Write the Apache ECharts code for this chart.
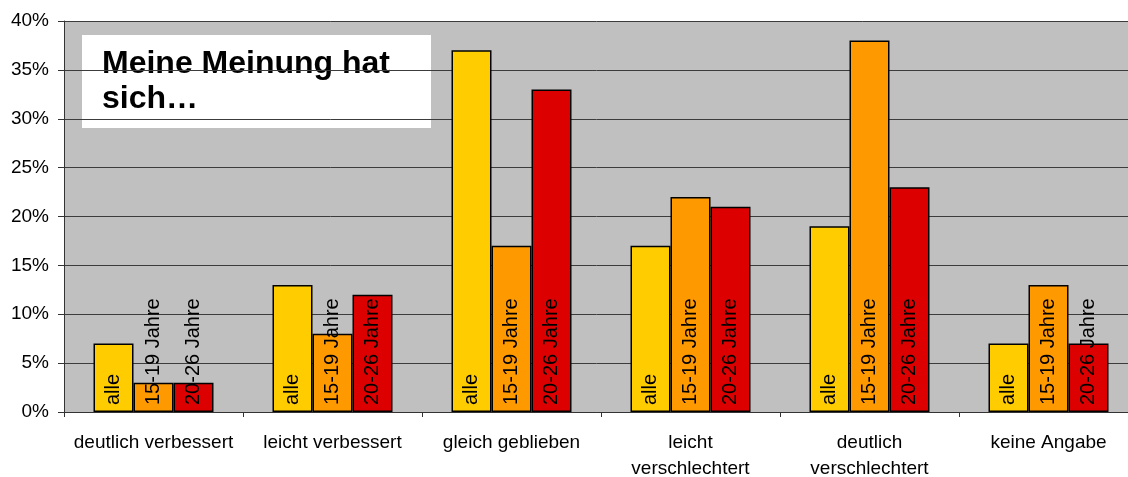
<!DOCTYPE html>
<html>
<head>
<meta charset="utf-8">
<script src="https://cdn.jsdelivr.net/npm/echarts@6/dist/echarts.min.js"></script>
<style>
  html, body { margin: 0; padding: 0; background: #ffffff; }
  #chart { width: 1128px; height: 477px; }
</style>
</head>
<body>
<div id="chart"></div>
<script>
// Survey answers: how has the opinion changed (percent of respondents)
const categories = [
  'deutlich verbessert',
  'leicht verbessert',
  'gleich geblieben',
  'leicht\nverschlechtert',
  'deutlich\nverschlechtert',
  'keine Angabe'
];
const seriesNames = ['alle', '15-19 Jahre', '20-26 Jahre'];
const valuesAlle = [7, 13, 37, 17, 19, 7];
const values15to19 = [3, 8, 17, 22, 38, 13];
const values20to26 = [3, 12, 33, 21, 23, 7];
const yTicks = { min: 0, max: 40, interval: 5 };
const titleLines = ['Meine Meinung hat', 'sich…'];

const colors = ['#FFCC00', '#FF9900', '#DD0000'];
const FONT = 'Liberation Sans, Arial, sans-serif';

function makeSeries(name, data, color) {
  return {
    name: name,
    type: 'bar',
    data: data,
    barWidth: 40,
    barGap: '0%',
    itemStyle: { color: color, borderColor: '#000000', borderWidth: 1.5 },
    label: {
      show: true,
      formatter: name,
      position: 'insideBottom',
      distance: 7,
      rotate: 90,
      align: 'left',
      verticalAlign: 'middle',
      color: '#000000',
      fontFamily: FONT,
      fontSize: 20
    },
    emphasis: { disabled: true },
    animation: false
  };
}

const chart = echarts.init(document.getElementById('chart'), null, { renderer: 'canvas' });
chart.setOption({
  backgroundColor: '#ffffff',
  animation: false,
  grid: {
    left: 64,
    width: 1074,
    top: 21,
    bottom: 65,
    containLabel: false,
    outerBoundsMode: 'none',
    show: true,
    backgroundColor: '#C0C0C0',
    borderWidth: 0
  },
  xAxis: {
    type: 'category',
    data: categories,
    axisLine: { show: true, lineStyle: { color: '#333333', width: 1 } },
    axisTick: { show: true, length: 5, lineStyle: { color: '#333333' } },
    axisLabel: {
      color: '#000000',
      fontFamily: FONT,
      fontSize: 19,
      lineHeight: 26,
      margin: 18,
      interval: 0
    }
  },
  yAxis: {
    type: 'value',
    min: yTicks.min,
    max: yTicks.max,
    interval: yTicks.interval,
    axisLine: { show: true, lineStyle: { color: '#333333', width: 1 } },
    axisTick: { show: true, length: 6, lineStyle: { color: '#333333' } },
    axisLabel: {
      formatter: '{value}%',
      color: '#000000',
      fontFamily: FONT,
      fontSize: 19,
      margin: 15
    },
    splitLine: { show: true, lineStyle: { color: '#3c3c3c', width: 1 } }
  },
  series: [
    makeSeries(seriesNames[0], valuesAlle, colors[0]),
    makeSeries(seriesNames[1], values15to19, colors[1]),
    makeSeries(seriesNames[2], values20to26, colors[2])
  ],
  graphic: [
    {
      type: 'group',
      left: 82,
      top: 35,
      z: 100,
      children: [
        {
          type: 'rect',
          shape: { x: 0, y: 0, width: 349, height: 93 },
          style: { fill: '#ffffff' }
        },
        {
          type: 'text',
          x: 20,
          y: 12,
          style: {
            text: titleLines.join('\n'),
            fill: '#000000',
            font: 'bold 32px ' + FONT,
            lineHeight: 35
          }
        }
      ]
    }
  ]
});
</script>
</body>
</html>
